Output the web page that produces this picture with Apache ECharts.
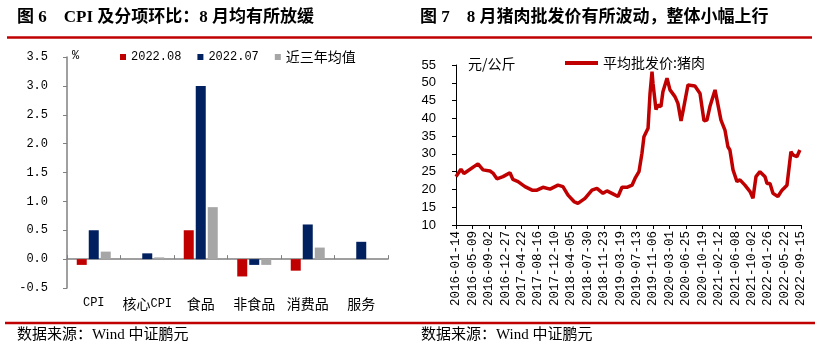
<!DOCTYPE html>
<html><head><meta charset="utf-8">
<script src="https://cdn.jsdelivr.net/npm/echarts@6/dist/echarts.min.js"></script>
<style>html,body{margin:0;padding:0;background:#fff}#c{width:820px;height:356px}</style>
</head><body><div id="c"></div>
<script>
// ---- Figure 6 data ----
const cpiCategories = ['CPI', '核心CPI', '食品', '非食品', '消费品', '服务'];
const cpiSeriesNames = ['2022.08', '2022.07', '近三年均值'];
const cpiAug = [-0.1, 0.0, 0.5, -0.3, -0.2, 0.0];
const cpiJul = [0.5, 0.1, 3.0, -0.1, 0.6, 0.3];
const cpiAvg3y = [0.13, 0.03, 0.9, -0.1, 0.2, 0.0];

// ---- Figure 7 data ----
const porkDateTicks = ['2016-01-14','2016-05-09','2016-09-02','2016-12-27','2017-04-22','2017-08-16','2017-12-10','2018-04-05','2018-07-30','2018-11-23','2019-03-19','2019-07-13','2019-11-06','2020-03-01','2020-06-25','2020-10-19','2021-02-12','2021-06-08','2021-10-02','2022-01-26','2022-05-22','2022-09-15'];
const porkDates = ['2016-01-14','2016-02-18','2016-03-10','2016-06-17','2016-07-23','2016-09-10','2016-10-01','2016-10-29','2016-12-11','2017-01-29','2017-02-19','2017-03-27','2017-05-15','2017-07-04','2017-08-08','2017-09-19','2017-11-08','2018-01-03','2018-02-07','2018-03-15','2018-04-26','2018-05-24','2018-07-13','2018-08-31','2018-10-05','2018-11-17','2018-12-15','2019-01-19','2019-03-03','2019-03-31','2019-05-05','2019-06-10','2019-07-01','2019-07-29','2019-08-19','2019-09-02','2019-10-01','2019-10-15','2019-10-29','2019-11-05','2019-11-26','2019-12-10','2019-12-31','2020-01-14','2020-02-12','2020-03-04','2020-04-08','2020-04-29','2020-05-21','2020-06-04','2020-07-09','2020-08-27','2020-10-02','2020-10-30','2020-11-20','2020-12-11','2021-01-16','2021-01-30','2021-02-27','2021-03-27','2021-04-17','2021-05-01','2021-05-23','2021-06-20','2021-07-11','2021-08-15','2021-09-20','2021-10-11','2021-11-01','2021-11-29','2022-01-04','2022-01-18','2022-02-08','2022-03-01','2022-04-05','2022-05-04','2022-06-08','2022-06-22','2022-07-06','2022-07-20','2022-08-17','2022-09-07'];
const porkPrices = [23.6,25.7,24.5,27.2,25.5,25.2,24.6,23.0,23.6,24.7,22.8,22.2,20.8,19.8,19.8,20.6,20.1,21.2,20.8,18.4,16.6,16.1,17.5,19.8,20.3,18.9,19.6,18.9,18.0,20.6,20.6,21.2,23.1,25.0,30.2,34.8,37.2,47.0,53.1,49.8,42.5,43.7,43.3,47.5,51.3,48.0,46.1,44.2,39.3,42.0,49.4,49.1,47.0,39.3,39.5,43.3,48.0,47.5,39.5,36.7,32.0,31.1,25.5,22.2,22.7,21.2,19.4,17.5,23.6,25.0,23.6,21.7,21.7,18.9,18.0,19.8,21.2,21.2,30.6,29.7,29.2,31.1];

const DAY0 = Date.parse(porkDateTicks[0]);
const dayOf = d => Math.round((Date.parse(d) - DAY0) / 86400000);
const DAY_STEP = dayOf(porkDateTicks[1]);
const DAY_MAX = dayOf(porkDateTicks[porkDateTicks.length - 1]);

const MONO = '"Liberation Mono","DejaVu Sans Mono",monospace';
const CJK = '"Noto Sans CJK SC","Noto Sans",sans-serif';
const mix = s => s.replace(/([\u3000-\u9fff\uff00-\uffef]+)/g, '{c|$1}');

const chart = echarts.init(document.getElementById('c'), null, {renderer: 'canvas'});
const titleFont = 'bold 17px "Liberation Serif","Noto Sans CJK SC",serif';
const srcFont = '15px "Liberation Serif","Noto Sans CJK SC",serif';

chart.setOption({
  animation: false,
  backgroundColor: '#fff',
  grid: [
    {left: 67, top: 57, width: 321, height: 231},
    {left: 456, top: 65, width: 345, height: 160}
  ],
  legend: [
    {
      data: cpiSeriesNames, left: 115, top: 45, icon: 'rect', itemWidth: 6, itemHeight: 6, itemGap: 16,
      formatter: mix,
      textStyle: {fontFamily: MONO, fontSize: 12, color: '#000', rich: {c: {fontFamily: CJK, fontSize: 14, color: '#000'}}}
    },
    {
      data: ['平均批发价:猪肉'], left: 560, top: 51, icon: 'rect', itemWidth: 33, itemHeight: 4, itemGap: 10,
      textStyle: {fontFamily: CJK, fontSize: 14, color: '#000'}
    }
  ],
  xAxis: [
    {
      gridIndex: 0, type: 'category', data: cpiCategories, position: 'bottom',
      axisLine: {show: false, onZero: false}, axisTick: {show: false},
      axisLabel: {interval: 0, margin: 9, color: '#000', fontFamily: MONO, fontSize: 12, formatter: mix,
        rich: {c: {fontFamily: CJK, fontSize: 14, color: '#000'}}},
      splitLine: {show: false}
    },
    {
      gridIndex: 0, type: 'category', data: cpiCategories, position: 'bottom',
      axisLine: {show: true, onZero: true, lineStyle: {color: '#808080', width: 1.5}},
      axisTick: {show: true, interval: 0, inside: true, length: 4, lineStyle: {color: '#808080'}},
      axisLabel: {show: false}, splitLine: {show: false}
    },
    {
      gridIndex: 1, type: 'value', min: 0, max: DAY_MAX, interval: DAY_STEP,
      axisLine: {show: true, lineStyle: {color: '#000', width: 1}},
      axisTick: {show: true, length: 4, lineStyle: {color: '#000'}},
      axisLabel: {rotate: 90, margin: 6, color: '#000', fontFamily: MONO, fontSize: 12.5,
        showMinLabel: true, showMaxLabel: true,
        formatter: v => porkDateTicks[Math.round(v / DAY_STEP)] || ''},
      splitLine: {show: false}
    }
  ],
  yAxis: [
    {
      gridIndex: 0, type: 'value', min: -0.5, max: 3.5, interval: 0.5,
      axisLine: {show: true, lineStyle: {color: '#808080', width: 1.5}},
      axisTick: {show: true, length: 4, lineStyle: {color: '#808080'}},
      axisLabel: {margin: 19, color: '#000', fontFamily: MONO, fontSize: 12, formatter: v => v.toFixed(1)},
      splitLine: {show: false}
    },
    {
      gridIndex: 1, type: 'value', min: 10, max: 55, interval: 5,
      axisLine: {show: true, lineStyle: {color: '#000', width: 1}},
      axisTick: {show: true, length: 4, lineStyle: {color: '#000'}},
      axisLabel: {margin: 20, color: '#000', fontFamily: '"Liberation Sans",Arial,sans-serif', fontSize: 13},
      splitLine: {show: false}
    }
  ],
  series: [
    {name: cpiSeriesNames[0], type: 'bar', xAxisIndex: 0, yAxisIndex: 0, data: cpiAug, barWidth: 10, barGap: '20%', itemStyle: {color: '#C00000'}},
    {name: cpiSeriesNames[1], type: 'bar', xAxisIndex: 0, yAxisIndex: 0, data: cpiJul, barWidth: 10, barGap: '20%', itemStyle: {color: '#002060'}},
    {name: cpiSeriesNames[2], type: 'bar', xAxisIndex: 0, yAxisIndex: 0, data: cpiAvg3y, barWidth: 10, barGap: '20%', itemStyle: {color: '#A6A6A6'}},
    {name: '平均批发价:猪肉', type: 'line', xAxisIndex: 2, yAxisIndex: 1,
      data: porkDates.map((d, i) => [dayOf(d), porkPrices[i]]),
      showSymbol: false, symbol: 'none', lineStyle: {color: '#C00000', width: 3.5}, itemStyle: {color: '#C00000'}}
  ],
  graphic: [
    {type: 'text', left: 17, top: 9, style: {text: '图 6\u3000CPI 及分项环比：8 月均有所放缓', font: titleFont, fill: '#000'}},
    {type: 'text', left: 420, top: 9, style: {text: '图 7\u30008 月猪肉批发价有所波动，整体小幅上行', font: titleFont, fill: '#000'}},
    {type: 'line', shape: {x1: 7, y1: 37.5, x2: 812, y2: 37.5}, style: {stroke: '#C00000', lineWidth: 2.5}},
    {type: 'line', shape: {x1: 5, y1: 323, x2: 815, y2: 323}, style: {stroke: '#C00000', lineWidth: 2.5}},
    {type: 'text', left: 72, top: 50, style: {text: '%', font: '12px ' + MONO, fill: '#000'}},
    {type: 'text', left: 468, top: 57, style: {text: '元/公斤', font: '14px ' + CJK, fill: '#000'}},
    {type: 'text', left: 17, top: 328, style: {text: '数据来源：Wind 中证鹏元', font: srcFont, fill: '#000'}},
    {type: 'text', left: 421, top: 328, style: {text: '数据来源：Wind 中证鹏元', font: srcFont, fill: '#000'}}
  ]
});
</script>
</body></html>
